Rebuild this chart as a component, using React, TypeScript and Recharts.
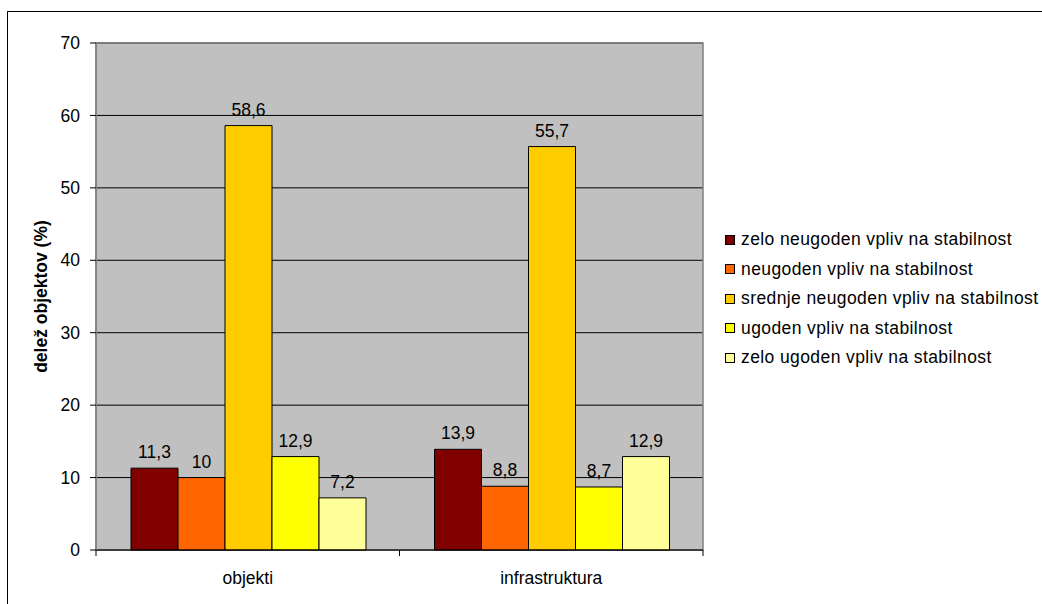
import React from 'react'
import { BarChart, Bar, XAxis, YAxis, CartesianGrid, Legend, LabelList, ReferenceArea } from 'recharts'

const categories = ['objekti', 'infrastruktura']

const seriesNames = [
  'zelo neugoden vpliv na stabilnost',
  'neugoden vpliv na stabilnost',
  'srednje neugoden vpliv na stabilnost',
  'ugoden vpliv na stabilnost',
  'zelo ugoden vpliv na stabilnost',
]

const seriesColors = ['#800000', '#FF6600', '#FFCC00', '#FFFF00', '#FFFF99']

const zeloNeugoden = [11.3, 13.9]
const neugoden = [10, 8.8]
const srednjeNeugoden = [58.6, 55.7]
const ugoden = [12.9, 8.7]
const zeloUgoden = [7.2, 12.9]

const yTicks = [0, 10, 20, 30, 40, 50, 60, 70]

const seriesValues = [zeloNeugoden, neugoden, srednjeNeugoden, ugoden, zeloUgoden]

const data = categories.map((c, i) => {
  const row: Record<string, string | number> = { name: c }
  seriesValues.forEach((vals, s) => {
    row['s' + s] = vals[i]
  })
  return row
})

const FONT = '"Liberation Sans", Arial, sans-serif'
const FS = 17.5

function fmt(v: any) {
  return String(v).replace('.', ',')
}

function CategoryTick(props: any) {
  const { x, y, payload, width, visibleTicksCount } = props
  const band = width && visibleTicksCount ? width / visibleTicksCount : 303.5
  return (
    <g>
      <line x1={x - band / 2} x2={x - band / 2} y1={y} y2={y + 6} stroke="#000" />
      <line x1={x + band / 2} x2={x + band / 2} y1={y} y2={y + 6} stroke="#000" />
      <text x={x} y={y + 34} textAnchor="middle" fontFamily={FONT} fontSize={FS} fill="#000">
        {payload.value}
      </text>
    </g>
  )
}

function AxisTitle(props: any) {
  const vb = props.viewBox || { x: 36, y: 43, width: 60, height: 507 }
  const cx = vb.x + 5
  const cy = vb.y + vb.height / 2
  return (
    <text
      x={cx}
      y={cy}
      transform={`rotate(-90 ${cx} ${cy})`}
      textAnchor="middle"
      dominantBaseline="central"
      fontFamily={FONT}
      fontSize={17.5}
      fontWeight="bold"
      fill="#000"
    >
      delež objektov (%)
    </text>
  )
}

function LegendBox() {
  return (
    <div style={{ fontFamily: FONT, fontSize: FS, color: '#000', letterSpacing: 0.4 }}>
      {seriesNames.map((n, i) => (
        <div key={n} style={{ display: 'flex', alignItems: 'center', height: 29.5, whiteSpace: 'nowrap' }}>
          <span
            style={{
              width: 8,
              height: 8,
              border: '1px solid #000',
              background: seriesColors[i],
              display: 'inline-block',
              marginRight: 6,
              flexShrink: 0,
            }}
          />
          {n}
        </div>
      ))}
    </div>
  )
}

export default function App() {
  return (
    <div style={{ position: 'absolute', left: 0, top: 0, width: 1042, height: 604, background: '#fff', overflow: 'hidden' }}>
      <div
        style={{
          position: 'absolute',
          left: 7,
          top: 11,
          width: 1035,
          height: 593,
          borderLeft: '1px solid #000',
          borderTop: '1px solid #000',
          boxSizing: 'border-box',
        }}
      />
      <BarChart
        width={1042}
        height={604}
        data={data}
        margin={{ top: 43, right: 339, bottom: 14, left: 36 }}
        barCategoryGap={35}
        barGap={0}
        style={{ position: 'absolute', left: 0, top: 0 }}
      >
        <CartesianGrid vertical={false} stroke="#000" fill="#C0C0C0" fillOpacity={1} />
        <ReferenceArea y1={0} y2={70} fill="none" stroke="#808080" strokeWidth={1.5} ifOverflow="visible" />
        <XAxis
          dataKey="name"
          height={40}
          tickSize={0}
          tickMargin={0}
          tickLine={false}
          axisLine={{ stroke: '#000' }}
          tick={<CategoryTick />}
          interval={0}
        />
        <YAxis
          width={60}
          domain={[0, 70]}
          ticks={yTicks}
          interval={0}
          tickSize={6}
          tickMargin={10}
          tickLine={{ stroke: '#000' }}
          axisLine={{ stroke: '#808080', strokeWidth: 1.5 }}
          tick={{ fontFamily: FONT, fontSize: FS, fill: '#000' }}
          label={<AxisTitle />}
        />
        <Legend
          layout="horizontal"
          verticalAlign="middle"
          align="center"
          content={() => <LegendBox />}
          wrapperStyle={{ left: 725, top: 225, width: 317 }}
        />
        {seriesNames.map((n, i) => (
          <Bar
            key={n}
            dataKey={'s' + i}
            name={n}
            fill={seriesColors[i]}
            stroke="#000"
            strokeWidth={1}
            isAnimationActive={false}
          >
            <LabelList
              dataKey={'s' + i}
              position="top"
              offset={10}
              formatter={fmt}
              style={{ fontFamily: FONT, fontSize: FS, fill: '#000' }}
            />
          </Bar>
        ))}
      </BarChart>
    </div>
  )
}
